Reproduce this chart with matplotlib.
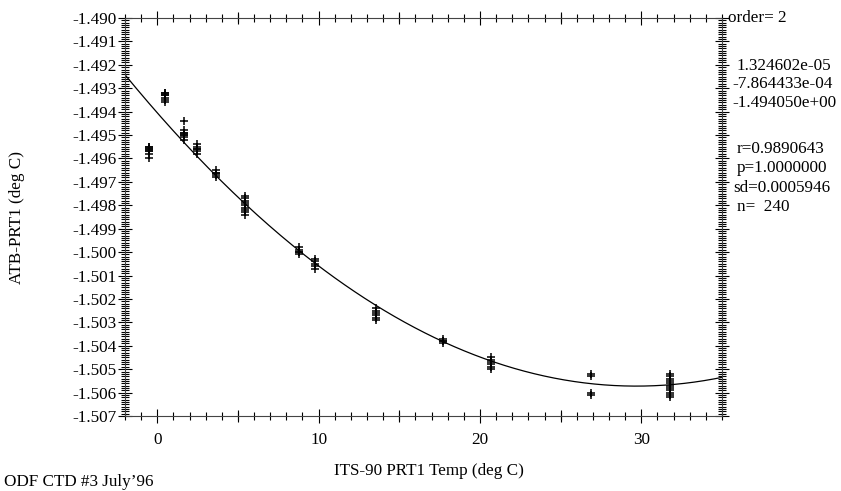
import numpy as np
import matplotlib
matplotlib.use("Agg")
import matplotlib.pyplot as plt
from matplotlib.ticker import MultipleLocator, FormatStrFormatter

# cluster x positions (ITS-90 PRT1 temp) and the ATB-PRT1 readings stacked at each
cluster_x = [-0.5, 0.5, 1.65, 2.46, 3.64, 5.43, 8.8, 9.77, 13.55, 17.7, 20.7, 26.9, 31.76]
cluster_y = [
    [-1.4955, -1.4955, -1.4956, -1.4956, -1.4957, -1.4957, -1.4958, -1.4960],
    [-1.4932, -1.4932, -1.4933, -1.4933, -1.4934, -1.4935, -1.4936],
    [-1.4944, -1.4948, -1.4949, -1.4949, -1.4950, -1.4950, -1.4951, -1.4952],
    [-1.4954, -1.4955, -1.4956, -1.4956, -1.4957, -1.4958],
    [-1.4965, -1.4966, -1.4966, -1.4967, -1.4968],
    [-1.4976, -1.4977, -1.4978, -1.4979, -1.4980, -1.4981, -1.4982, -1.4983, -1.4984],
    [-1.4998, -1.4999, -1.5000, -1.5000, -1.5001],
    [-1.5003, -1.5004, -1.5005, -1.5006, -1.5007],
    [-1.5024, -1.5025, -1.5026, -1.5027, -1.5028, -1.5029],
    [-1.5037, -1.5038, -1.5038, -1.5039],
    [-1.5045, -1.5046, -1.5047, -1.5048, -1.5049, -1.5050],
    [-1.5052, -1.5053, -1.5060, -1.5061],
    [-1.5052, -1.5053, -1.5054, -1.5055, -1.5056, -1.5057, -1.5058, -1.5059, -1.5060, -1.5061, -1.5062],
]

# fit coefficients shown on the chart (highest order first)
coef = [1.324602e-05, -7.864433e-04, -1.494050e+00]
coef_labels = ["1.324602e-05", "-7.864433e-04", "-1.494050e+00"]
stats = ["r=0.9890643", "p=1.0000000", "sd=0.0005946", "n=  240"]

plt.rcParams["font.family"] = ["Liberation Serif", "DejaVu Serif"]
plt.rcParams["font.size"] = 12.3

fig = plt.figure(figsize=(8.41, 4.91), dpi=100)
ax = fig.add_axes([125 / 841, 1 - 416 / 491, 597 / 841, 398 / 491])

xs, ys = [], []
for cx, cy in zip(cluster_x, cluster_y):
    xs += [cx] * len(cy)
    ys += cy
ax.plot(xs, ys, linestyle="none", marker="+", markersize=6.2, mew=1.1, color="black")

xf = np.linspace(-2, 35, 300)
ax.plot(xf, np.polyval(coef, xf), color="black", lw=0.9)

ax.set_xlim(-2, 35)
ax.set_ylim(-1.507, -1.490)

ax.xaxis.set_major_locator(MultipleLocator(10))
ax.xaxis.set_minor_locator(MultipleLocator(1))
ax.yaxis.set_major_locator(MultipleLocator(0.001))
ax.yaxis.set_minor_locator(MultipleLocator(0.0001))
ax.yaxis.set_major_formatter(FormatStrFormatter("%.3f"))

ax.tick_params(which="both", direction="inout", top=True, right=True, width=0.8, color="black")
ax.tick_params(which="major", length=10.5)
ax.tick_params(axis="y", which="major", pad=1)
ax.tick_params(axis="x", which="major", pad=6)
ax.tick_params(which="minor", length=6)

# medium ticks every 5 deg on the x axes
for loc in ["bottom", "top"]:
    sec = ax.secondary_xaxis(loc)
    sec.set_xticks([5, 15, 25])
    sec.set_xticklabels([])
    sec.tick_params(direction="inout", length=8.5, width=0.8)
    sec.spines[loc].set_visible(False)

for s in ax.spines.values():
    s.set_linewidth(0.8)
    s.set_color("#444444")

ax.set_xlabel("ITS-90 PRT1 Temp (deg C)")
ax.xaxis.set_label_coords((429 - 125) / 597, -(463 - 416) / 398)
ax.set_ylabel("ATB-PRT1 (deg C)")
ax.yaxis.set_label_coords((25 - 125) / 597, 0.5)

def px(x, y):
    return x / 841, 1 - y / 491

fig.text(*px(728, 18), "order= 2", va="center", ha="left")
for i, (xo, s) in enumerate(zip([737, 732, 732], coef_labels)):
    fig.text(*px(xo, 66 + i * 18.5), s, va="center", ha="left")
for i, s in enumerate(stats):
    xoff = 733 if s.startswith("sd") else 737
    fig.text(*px(xoff, 149 + i * 19.3), s, va="center", ha="left")

fig.text(*px(4, 482), "ODF CTD #3 July\u201996", va="center", ha="left")

fig.savefig("out.png", dpi=100)
